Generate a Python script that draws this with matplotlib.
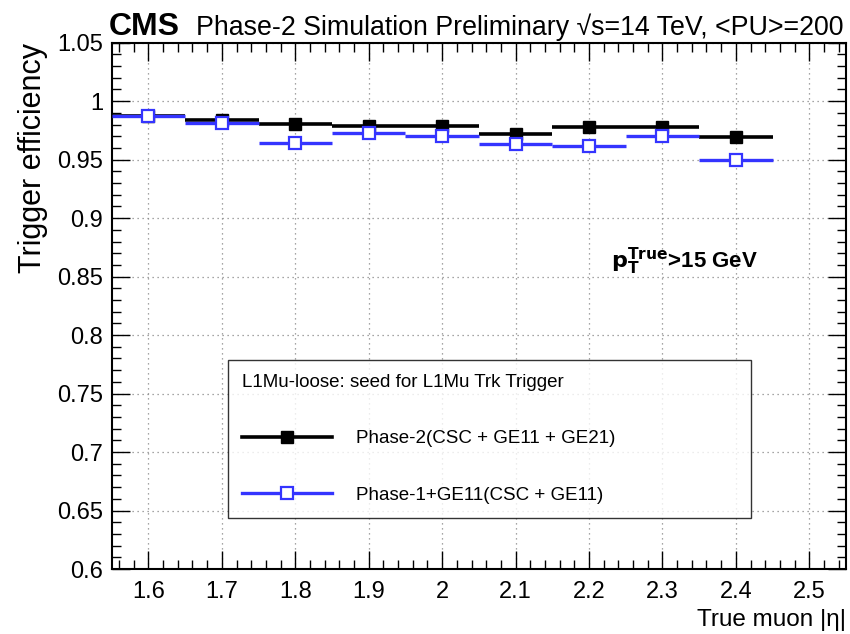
import matplotlib
matplotlib.use("Agg")
import matplotlib.pyplot as plt
from matplotlib.ticker import MultipleLocator, FixedLocator
from matplotlib.lines import Line2D

plt.rcParams['font.family'] = ['Liberation Sans', 'DejaVu Sans']

eta = [1.6, 1.7, 1.8, 1.9, 2.0, 2.1, 2.2, 2.3, 2.4]
bin_half = 0.05
phase2 = [0.987, 0.9835, 0.9805, 0.979, 0.979, 0.972, 0.978, 0.978, 0.969]
phase1 = [0.987, 0.981, 0.964, 0.973, 0.9705, 0.963, 0.9615, 0.9705, 0.950]
xticks = [1.6, 1.7, 1.8, 1.9, 2.0, 2.1, 2.2, 2.3, 2.4, 2.5]
xticklabels = ["1.6", "1.7", "1.8", "1.9", "2", "2.1", "2.2", "2.3", "2.4", "2.5"]
yticks = [0.6, 0.65, 0.7, 0.75, 0.8, 0.85, 0.9, 0.95, 1.0, 1.05]
yticklabels = ["0.6", "0.65", "0.7", "0.75", "0.8", "0.85", "0.9", "0.95", "1", "1.05"]

black = "#000000"
blue = "#3434ff"

fig = plt.figure(figsize=(8.5, 6.34), dpi=100)
ax = fig.add_axes([111.7/850, (634-569)/634, (846-111.7)/850, (569-42.7)/634])
ax.set_xlim(1.55, 2.55)
ax.set_ylim(0.6, 1.05)

ax.errorbar(eta, phase2, xerr=bin_half, fmt='s', color=black, ecolor=black,
            elinewidth=2.6, markersize=9, markerfacecolor=black, markeredgecolor=black,
            capsize=0, zorder=3)
ax.errorbar(eta, phase1, xerr=bin_half, fmt='s', color=blue, ecolor=blue,
            elinewidth=2.4, markersize=9, markerfacecolor='white', markeredgecolor=blue,
            markeredgewidth=1.6, capsize=0, zorder=4)

ax.xaxis.set_major_locator(FixedLocator(xticks))
ax.set_xticklabels(xticklabels)
ax.xaxis.set_minor_locator(MultipleLocator(0.02))
ax.yaxis.set_major_locator(FixedLocator(yticks))
ax.set_yticklabels(yticklabels)
ax.yaxis.set_minor_locator(MultipleLocator(0.01))
ax.tick_params(which='both', direction='in', top=True, right=True, labelsize=17, width=1.0)
ax.tick_params(which='major', length=13)
ax.tick_params(axis='x', which='major', pad=9)
ax.tick_params(axis='y', which='major', pad=6)
ax.tick_params(which='minor', length=6.5)
ax.grid(True, which='major', linestyle=(0, (1, 3)), color='#888888', linewidth=0.9)
for s in ax.spines.values():
    s.set_linewidth(1.5)

ax.set_ylabel("Trigger efficiency", fontsize=22, loc='top', labelpad=7)
ax.set_xlabel("True muon |η|", fontsize=17.5, loc='right', labelpad=4)

fig.text(109/850, 1 - 35/634, "CMS", fontsize=23, fontweight='bold', ha='left', va='baseline')
fig.text(843/850, 1 - 35/634, "Phase-2 Simulation Preliminary √s=14 TeV, <PU>=200",
         fontsize=19.3, ha='right', va='baseline')

ax.text(2.43, 0.863, r"$\mathbf{p_{T}^{True}}$>15 GeV", fontsize=16, fontweight='bold',
        ha='right', va='center')

h1 = Line2D([], [], color=black, marker='s', markersize=9, linewidth=2.6)
h2 = Line2D([], [], color=blue, marker='s', markersize=9, markerfacecolor='white',
            markeredgewidth=1.6, linewidth=2.4)
leg = ax.legend([h1, h2], ["Phase-2(CSC + GE11 + GE21)", "Phase-1+GE11(CSC + GE11)"],
                title="L1Mu-loose: seed for L1Mu Trk Trigger", title_fontsize=13.5, fontsize=13.5,
                loc='lower left', bbox_to_anchor=((228-111.7)/734.3, (569-518)/526.3,
                                                  (751-228)/734.3, (518-360)/526.3),
                mode='expand', borderaxespad=0, frameon=True, fancybox=False, edgecolor='black',
                handlelength=4.8, labelspacing=2.1, borderpad=0.75, handletextpad=1.3)
leg.get_frame().set_linewidth(1.0)
leg._legend_box.align = "left"

fig.savefig("out.png", dpi=100)
